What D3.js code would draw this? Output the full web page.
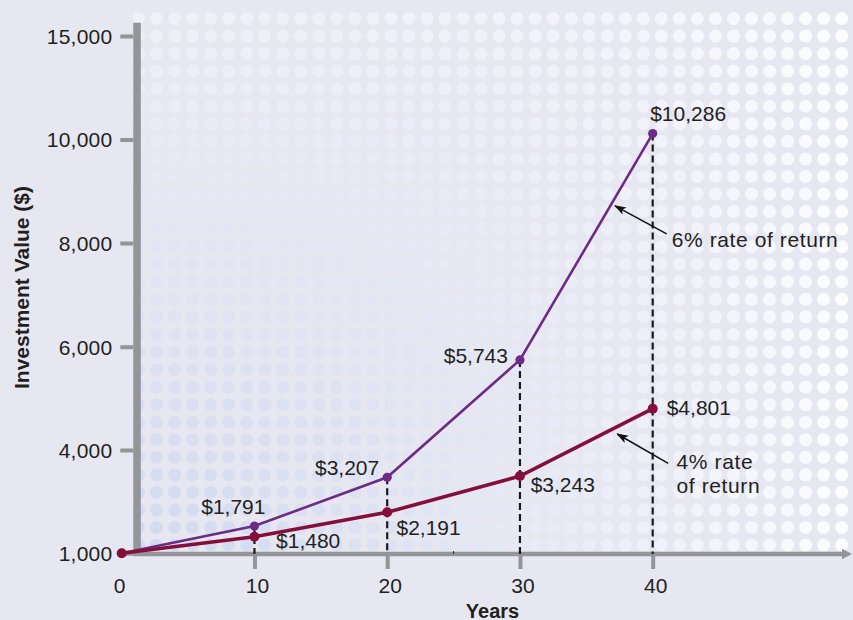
<!DOCTYPE html>
<html><head><meta charset="utf-8">
<script src="https://cdn.jsdelivr.net/npm/d3@7"></script>
<style>
html,body{margin:0;padding:0;background:#e7e7f2;}
svg{display:block;font-family:"Liberation Sans",Arial,Helvetica,sans-serif;}
</style></head>
<body>
<svg id="chart" width="853" height="620"></svg>
<script>
// ---- data ----
const years = [0, 10, 20, 30, 40];
const rate6 = [1000, 1791, 3207, 5743, 10286];
const rate4 = [1000, 1480, 2191, 3243, 4801];
const yTickValues = [1000, 4000, 6000, 8000, 10000, 15000];
const xTickValues = [0, 10, 20, 30, 40];
const seriesNames = ["6% rate of return", "4% rate of return"];
const dropYears = [10, 20, 30, 40];

const W = 853, H = 620;
const svg = d3.select("#chart");
const GRAY = "#939598", TXT = "#231f20";
const C6 = "#6c2c85", C4 = "#850f3b";

// scales (the reference axis spaces ticks evenly, so a piecewise scale)
const x = d3.scaleLinear().domain([0, 40]).range([121.7, 652.7]);
const y = d3.scaleLinear().domain(yTickValues).range([553.3, 450, 346.7, 243, 139.5, 36]);

// background
svg.append("rect").attr("width", W).attr("height", H).attr("fill", "#e7e7f2");

// decorative halftone dots
const defs = svg.append("defs");
defs.append("clipPath").attr("id", "dotclip").append("rect")
  .attr("x", 133).attr("y", 0).attr("width", W - 133).attr("height", 552);
const dotData = [];
for (let j = 0; j < 31; j++) {
  for (let i = 0; i < 41; i++) {
    dotData.push({cx: 138.5 + i * 18.03, cy: 18.5 + j * 17.55});
  }
}
const topLeft = d3.rgb(240, 240, 248), botLeft = d3.rgb(211, 218, 239), white = d3.rgb(253, 253, 255);
function dotColor(d) {
  const s = (d.cy - 18) / 530;
  const t = Math.min(1, Math.max(0, (d.cx - 138) / 705));
  const left = d3.interpolateRgb(topLeft, botLeft)(Math.pow(s, 0.9));
  const p = 3 - 1.7 * s;
  return d3.interpolateRgb(left, white)(Math.pow(t, p));
}
svg.append("g").attr("clip-path", "url(#dotclip)")
  .selectAll("circle").data(dotData).join("circle")
  .attr("cx", d => d.cx).attr("cy", d => d.cy).attr("r", 6.5)
  .attr("fill", dotColor);

// y axis
svg.append("rect").attr("x", 133.3).attr("y", 22.7).attr("width", 7.5).attr("height", 533.3).attr("fill", GRAY);
const yAxis = svg.append("g").attr("transform", "translate(133.3,0)")
  .call(d3.axisLeft(y).tickValues(yTickValues).tickSize(13).tickPadding(8).tickFormat(d3.format(",")));
yAxis.select(".domain").remove();
yAxis.selectAll(".tick line").attr("stroke", GRAY).attr("stroke-width", 4);
yAxis.selectAll(".tick text").attr("fill", TXT).style("font-size", "21px")
  .style("font-family", "'Liberation Sans',Arial,sans-serif").style("letter-spacing", "0.2px").attr("dy", "0.35em");

// x axis
const axisY = 554;
svg.append("line").attr("x1", 133.3).attr("x2", 844).attr("y1", axisY).attr("y2", axisY)
  .attr("stroke", GRAY).attr("stroke-width", 4.5);
svg.append("path").attr("d", `M842,${axisY - 5.2}L852,${axisY}L842,${axisY + 5.2}Z`).attr("fill", GRAY);
const xAxis = svg.append("g").attr("transform", `translate(0,${axisY + 2})`)
  .call(d3.axisBottom(x).tickValues(xTickValues).tickSize(13).tickPadding(9.4));
xAxis.select(".domain").remove();
xAxis.selectAll(".tick line").attr("stroke", GRAY).attr("stroke-width", 4)
  .attr("opacity", d => d === 0 ? 0 : 1);
xAxis.selectAll(".tick text").attr("fill", TXT).style("font-size", "21px")
  .style("font-family", "'Liberation Sans',Arial,sans-serif").attr("dx", d => d === 0 ? -2.5 : 2.5);
// small minor mark at year 25
svg.append("line").attr("x1", x(25)).attr("x2", x(25)).attr("y1", axisY - 3).attr("y2", axisY)
  .attr("stroke", "#333").attr("stroke-width", 1);

// axis titles
svg.append("text").attr("transform", "translate(28.5,287.5) rotate(-90)")
  .attr("text-anchor", "middle").attr("fill", TXT).style("font-size", "21px").style("font-weight", "bold")
  .text("Investment Value ($)");
svg.append("text").attr("x", 492.5).attr("y", 617.5).attr("text-anchor", "middle")
  .attr("fill", TXT).style("font-size", "20px").style("font-weight", "bold").text("Years");

// drop lines
const top6 = years.map((yr, i) => ({yr, v: Math.max(rate6[i], rate4[i])}));
svg.append("g").selectAll("line").data(top6.filter(d => dropYears.includes(d.yr))).join("line")
  .attr("x1", d => x(d.yr)).attr("x2", d => x(d.yr))
  .attr("y1", d => y(d.v)).attr("y2", axisY)
  .attr("stroke", "#1a1a1a").attr("stroke-width", 2.2).attr("stroke-dasharray", "7,4");

// lines
const s6 = years.map((yr, i) => ({yr, v: rate6[i]}));
const s4 = years.map((yr, i) => ({yr, v: rate4[i]}));
const line = d3.line().x(d => x(d.yr)).y(d => y(d.v));
svg.append("path").datum(s6).attr("d", line).attr("fill", "none").attr("stroke", C6).attr("stroke-width", 2.6);
svg.append("path").datum(s4).attr("d", line).attr("fill", "none").attr("stroke", C4).attr("stroke-width", 3.6);
svg.append("g").selectAll("circle").data(s6).join("circle")
  .attr("cx", d => x(d.yr)).attr("cy", d => y(d.v)).attr("r", 4.6).attr("fill", C6);
svg.append("g").selectAll("circle").data(s4).join("circle")
  .attr("cx", d => x(d.yr)).attr("cy", d => y(d.v)).attr("r", 5).attr("fill", C4);

// value labels
const fmt = v => "$" + d3.format(",")(v);
const off6 = [null, {dx: 11, dy: -12, a: "end"}, {dx: -8, dy: -2, a: "end"}, {dx: -12, dy: 3, a: "end"}, {dx: -2.5, dy: -12.6, a: "start"}];
const off4 = [null, {dx: 21.6, dy: 11.6, a: "start"}, {dx: 9.3, dy: 22.3, a: "start"}, {dx: 10.7, dy: 16.4, a: "start"}, {dx: 14, dy: 6.3, a: "start"}];
function labels(series, offs) {
  svg.append("g").selectAll("text").data(series.filter((d, i) => offs[i]).map(d => ({...d, o: offs[years.indexOf(d.yr)]})))
    .join("text")
    .attr("x", d => x(d.yr) + d.o.dx).attr("y", d => y(d.v) + d.o.dy)
    .attr("text-anchor", d => d.o.a).attr("fill", TXT).style("font-size", "21px")
    .text(d => fmt(d.v));
}
labels(s6, off6);
labels(s4, off4);

// annotations (positions in data units)
defs.append("marker").attr("id", "ah").attr("viewBox", "0 0 12 10").attr("refX", 11).attr("refY", 5)
  .attr("markerWidth", 12).attr("markerHeight", 10).attr("markerUnits", "userSpaceOnUse").attr("orient", "auto")
  .append("path").attr("d", "M0,0.8L12,5L0,9.2L3,5Z").attr("fill", "#111");
const ann = [
  {from: [41.05, 8175], to: [37.16, 8718], lines: [seriesNames[0]], at: [41.43, 7928]},
  {from: [41.17, 3614], to: [37.33, 4310], lines: ["4% rate", "of return"], at: [41.8, 3439]}
];
ann.forEach(a => {
  svg.append("line").attr("x1", x(a.from[0])).attr("y1", y(a.from[1]))
    .attr("x2", x(a.to[0])).attr("y2", y(a.to[1]))
    .attr("stroke", "#111").attr("stroke-width", 1.5).attr("marker-end", "url(#ah)");
  const t = svg.append("text").attr("x", x(a.at[0])).attr("y", y(a.at[1]))
    .attr("fill", TXT).style("font-size", "21px").style("letter-spacing", "0.6px");
  a.lines.forEach((l, i) => t.append("tspan").attr("x", x(a.at[0])).attr("dy", i ? 24 : 0).text(l));
});
</script>
</body></html>
